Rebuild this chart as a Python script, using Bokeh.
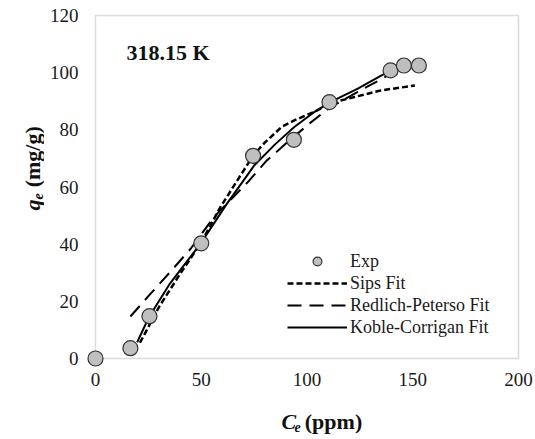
import numpy as np
from bokeh.plotting import figure
from bokeh.layouts import row, column
from bokeh.models import Range1d, FixedTicker, Label, BoxAnnotation, Legend, LegendItem
from bokeh.embed import file_html
from bokeh.resources import INLINE

# ---------------- data ----------------
ce_exp = [0, 16.5, 25.5, 50, 74.5, 93.8, 110.6, 139.5, 145.8, 152.9]
qe_exp = [0, 3.6, 14.8, 40.3, 70.9, 76.5, 89.7, 100.8, 102.5, 102.5]

sips_ce = [21, 25, 30, 40, 50, 59, 68, 75, 80, 88, 94, 103, 113, 122, 135, 151]
sips_qe = [5.5, 11, 18, 29.6, 40.6, 52.9, 63.4, 71.5, 75.5, 81, 83.3, 86.2, 89.7, 91.4, 93.8, 95.5]

rp_ce = [16.5, 25, 35, 45, 56, 72, 81, 92, 102, 111, 124, 139.5]
rp_qe = [14.7, 21.8, 30, 38.4, 49.5, 61.7, 69.3, 76.5, 82.7, 87.9, 93.3, 99.5]

kc_ce = [19.7, 25.5, 35, 50, 62, 75, 85, 94, 103, 111, 124, 139.5]
kc_qe = [5.7, 14.8, 26, 40.5, 54, 67.5, 75, 81, 86, 89.7, 94.4, 100.8]

x_ticks = [0, 50, 100, 150, 200]
y_ticks = [0, 20, 40, 60, 80, 100, 120]
x_max, y_max = 200, 120

legend_labels = ["Exp", "Sips Fit", "Redlich-Peterso Fit", "Koble-Corrigan Fit"]
title_text = "318.15 K"
xlabel_parts = ["C", "e", "(ppm)"]
ylabel_parts = ["q", "e", "(mg/g)"]

# ---------------- layout (pixels, whole page) ----------------
W, H = 535, 439
LW = 44            # width of the strip holding the y label
MH = 400           # height of the main figure
X0_PX, X1_PX = 95, 518      # page pixel of x=0 and x=x_max
Y0_PX, Y1_PX = 358, 15      # page pixel of y=0 and y=y_max
FL, FR, FT, FB = 86, 521, 12, 367   # frame edges (padded so markers are not clipped)
sx = (X1_PX - X0_PX) / x_max
sy = (Y0_PX - Y1_PX) / y_max


def px2x(px):
    return (px - X0_PX) / sx


def px2y(py):
    return (Y0_PX - py) / sy


FONT = "Liberation Serif"

p = figure(width=W - LW, height=MH, output_backend="svg", toolbar_location=None,
           x_range=Range1d(px2x(FL), px2x(FR)), y_range=Range1d(px2y(FB), px2y(FT)),
           min_border_left=FL - LW, min_border_right=W - FR,
           min_border_top=FT, min_border_bottom=MH - FB)
p.outline_line_color = None
p.grid.visible = False
p.background_fill_color = "white"
p.border_fill_color = "white"

for ax, ticks in ((p.xaxis, x_ticks), (p.yaxis, y_ticks)):
    ax.ticker = FixedTicker(ticks=ticks)
    ax.major_tick_in = 0
    ax.major_tick_out = 0
    ax.minor_tick_in = 0
    ax.minor_tick_out = 0
    ax.axis_line_color = None
    ax.major_label_text_font = FONT
    ax.major_label_text_font_size = "19px"
    ax.major_label_text_color = "#1a1a1a"
p.xaxis.major_label_standoff = 5
p.yaxis.major_label_standoff = 8

box = BoxAnnotation(left=0, right=x_max, bottom=0, top=y_max,
                    fill_color=None, fill_alpha=0, line_color="#8a8a8a",
                    line_width=1.5, level="underlay")
p.add_layout(box)

r_sips = p.line(sips_ce, sips_qe, line_color="black", line_width=2.5, line_dash="6 3")
r_rp = p.line(rp_ce, rp_qe, line_color="black", line_width=2, line_dash="14 8")
r_kc = p.line(kc_ce, kc_qe, line_color="black", line_width=2)
r_exp = p.scatter(ce_exp, qe_exp, size=15, fill_color="#bfbfbf",
                  line_color="#333333", line_width=1.2)

legend = Legend(items=[LegendItem(label=legend_labels[0], renderers=[r_exp]),
                       LegendItem(label=legend_labels[1], renderers=[r_sips]),
                       LegendItem(label=legend_labels[2], renderers=[r_rp]),
                       LegendItem(label=legend_labels[3], renderers=[r_kc])],
                location=(201, 29), padding=0, margin=0, spacing=0,
                glyph_width=60, glyph_height=22, label_height=22, label_standoff=3,
                label_text_font=FONT, label_text_font_size="18px",
                label_text_color="#1a1a1a",
                border_line_color=None, background_fill_alpha=0)
p.add_layout(legend)

# title inside plot
p.add_layout(Label(x=px2x(126), y=px2y(52), text=title_text, text_font=FONT,
                   text_font_style="bold", text_font_size="22px",
                   text_baseline="middle", text_align="left", text_color="#111111"))


def strip(w, h):
    f = figure(width=w, height=h, output_backend="svg", toolbar_location=None,
               x_range=Range1d(0, w), y_range=Range1d(0, h),
               x_axis_type=None, y_axis_type=None,
               min_border=0, min_border_left=0, min_border_right=0,
               min_border_top=0, min_border_bottom=0)
    f.outline_line_color = None
    f.grid.visible = False
    f.background_fill_color = "white"
    f.border_fill_color = "white"
    return f


def add_text(f, h, px, py, text, size, style, angle=0.0):
    # px, py: pixel position inside strip, py measured from the strip top
    f.add_layout(Label(x=px, y=h - py, text=text, text_font=FONT,
                       text_font_style=style, text_font_size=size, angle=angle,
                       text_baseline="alphabetic", text_align="left",
                       text_color="#111111"))


# x axis label strip (below main figure): C_e (ppm)
XH = H - MH
fx = strip(W - LW, XH)
xs = 264 - LW
base = 421 - MH
add_text(fx, XH, xs, base, xlabel_parts[0], "22px", "bold italic")
add_text(fx, XH, xs + 14.7, base + 5, xlabel_parts[1], "14px", "bold italic")
add_text(fx, XH, xs + 14.7 + 6.2 + 5.5, base, xlabel_parts[2], "22px", "bold")

# y axis label strip (left): q_e (mg/g), rotated
fy = strip(LW, H)
ys = 210
add_text(fy, H, 32, ys, ylabel_parts[0], "22px", "bold italic", np.pi / 2)
add_text(fy, H, 37, ys - 11, ylabel_parts[1], "14px", "bold italic", np.pi / 2)
add_text(fy, H, 32, ys - 11 - 6.2 - 6, ylabel_parts[2], "22px", "bold", np.pi / 2)

layout = row(fy, column(p, fx, spacing=0), spacing=0)

open("out.html", "w").write(file_html(layout, INLINE))
